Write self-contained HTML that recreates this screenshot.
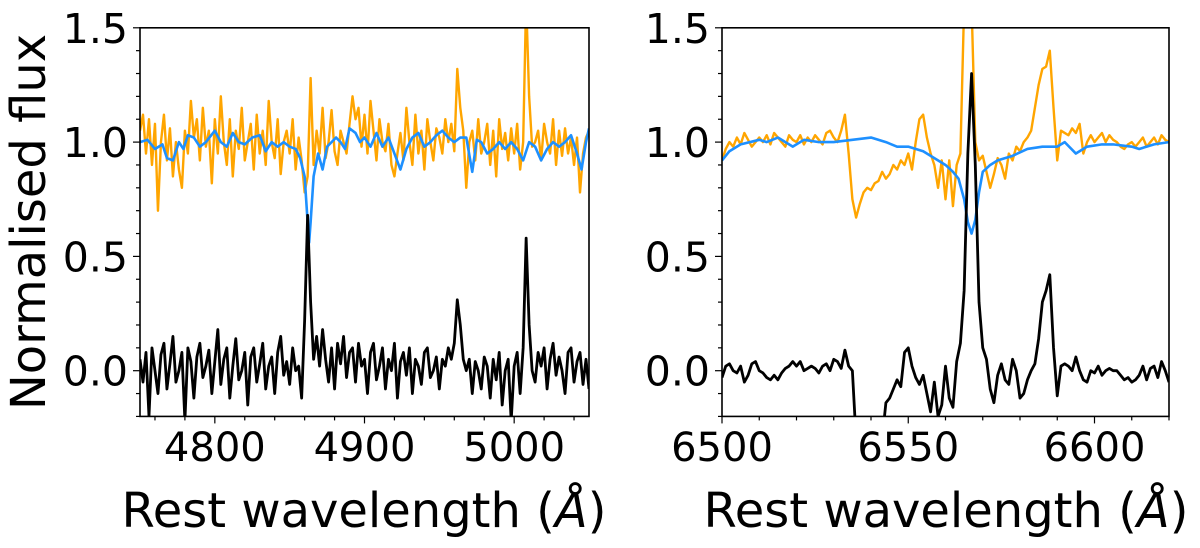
<!DOCTYPE html>
<html><head><meta charset="utf-8"><style>
body{margin:0;background:#fff;}
svg text{font-family:"DejaVu Sans","Liberation Sans",sans-serif;fill:#000;}
</style></head><body>
<svg id="chart" width="1200" height="543" viewBox="0 0 1200 543" xmlns="http://www.w3.org/2000/svg">
<defs>
<clipPath id="clipL"><rect x="140" y="28" width="449" height="388"/></clipPath>
<clipPath id="clipR"><rect x="722" y="28" width="447" height="388"/></clipPath>
</defs>
<text transform="translate(45,222) rotate(-90)" text-anchor="middle" font-size="48">Normalised flux</text>
<text x="364" y="527" text-anchor="middle" font-size="48">Rest wavelength (<tspan font-style="italic">Å</tspan>)</text>
<text x="946" y="527" text-anchor="middle" font-size="48">Rest wavelength (<tspan font-style="italic">Å</tspan>)</text>
<g id="gL"></g>
<g id="gR"></g>
</svg>
<script>
// ---- data ----
const yTicks=[0.0,0.5,1.0,1.5];
const yTickLabels=["0.0","0.5","1.0","1.5"];
const leftXTicks=[4800,4900,5000];
const rightXTicks=[6500,6550,6600];
const leftStart=4750, leftStep=2;
const leftOrange=[1.05,1.12,0.95,1.1,0.9,1.08,0.7,1.0,1.12,0.92,1.06,0.85,1.0,0.88,0.8,1.05,0.95,1.18,1.02,1.1,0.92,1.15,0.98,1.05,0.82,
1.1,0.95,1.2,1.0,0.9,1.1,0.85,1.05,0.97,1.15,0.92,1.0,1.08,0.88,1.12,0.95,1.05,0.9,1.18,1.0,0.93,1.1,0.86,1.0,1.05,
0.95,1.1,0.88,1.02,0.92,0.78,0.85,1.28,0.9,1.05,0.95,1.15,0.93,1.0,1.14,0.96,0.9,1.05,1.0,0.95,1.08,1.2,1.1,1.15,0.98,
1.12,0.95,1.18,1.05,0.92,1.1,1.0,0.96,1.08,0.9,0.85,0.95,1.04,0.92,1.15,1.0,0.9,1.12,0.95,1.05,0.88,1.1,1.0,0.92,1.06,
1.02,0.95,1.1,1.0,1.08,0.96,1.32,1.15,1.05,0.8,1.0,1.05,0.92,1.1,0.95,1.0,1.08,0.9,1.05,0.85,1.1,0.97,1.04,0.92,1.06,
0.95,1.08,0.88,1.0,1.62,1.2,0.98,1.0,1.05,0.92,1.08,1.0,0.95,1.1,0.9,1.05,0.94,1.06,0.95,1.02,0.9,1.02,0.78,0.95,1.02,1.05];
const leftBlack=[0.05,-0.05,0.08,-0.2,0.1,0.0,-0.1,0.07,0.12,-0.08,0.03,0.15,-0.05,0.0,0.08,-0.22,0.1,0.04,-0.12,0.06,0.12,-0.03,0.02,0.09,-0.1,
0.04,0.18,-0.06,0.05,0.1,-0.12,0.02,0.14,-0.04,0.0,0.08,-0.15,0.06,0.1,-0.05,0.03,0.12,-0.08,0.02,0.06,-0.1,0.08,0.15,-0.02,0.04,
-0.06,0.1,0.0,0.02,-0.12,0.22,0.68,0.3,0.05,0.15,0.02,0.18,0.05,-0.05,0.1,-0.08,0.12,0.03,0.15,-0.03,0.08,0.1,-0.05,0.12,0.02,
0.05,-0.1,0.08,0.12,-0.04,0.02,0.1,-0.08,0.05,0.0,0.12,-0.12,0.04,0.08,-0.02,0.1,-0.1,0.05,0.02,-0.06,0.08,0.1,-0.03,0.0,0.06,
-0.08,0.05,0.02,0.1,0.05,0.12,0.31,0.2,0.05,0.0,0.05,-0.1,0.04,0.0,-0.08,0.06,0.02,-0.12,0.05,-0.04,0.08,-0.15,0.0,0.05,-0.22,
0.02,0.08,-0.1,0.1,0.58,0.2,0.0,-0.05,0.08,0.02,0.1,-0.08,0.05,0.12,-0.02,0.06,0.0,-0.1,0.08,0.1,-0.05,0.04,0.08,-0.06,0.05,-0.08];
const leftBlueX=[4750,4755,4760,4765,4768,4772,4776,4779,4782,4786,4790,4794,4800,4804,4808,4812,4816,4820,4825,4830,4834,4838,4842,4846,4850,4854,4857,4860,4862,4863,4864,4866,4869,4872,4875,4878,4881,4884,4887,4890,4894,4897,4900,4904,4908,4912,4916,4920,4924,4928,4932,4936,4940,4944,4948,4952,4956,4960,4964,4968,4972,4975,4978,4982,4986,4990,4994,4998,5002,5006,5010,5014,5018,5022,5026,5030,5034,5038,5042,5045,5048,5050];
const leftBlueY=[1.0,1.01,0.97,0.99,0.93,0.92,1.0,0.97,1.03,1.02,0.98,1.0,1.05,1.0,0.98,1.04,1.0,0.99,1.02,1.03,0.96,1.0,0.98,1.0,0.98,0.97,0.93,0.85,0.65,0.56,0.65,0.85,0.95,0.88,0.98,1.0,1.02,1.0,0.97,1.06,1.04,1.0,1.02,0.98,1.04,0.98,1.02,0.95,0.88,0.97,1.02,1.04,0.98,1.0,1.03,1.05,1.02,1.0,1.02,1.02,0.87,1.01,1.0,0.95,0.97,1.0,0.97,1.0,0.97,0.92,1.0,0.98,0.92,0.97,1.0,0.98,1.0,1.03,0.95,0.88,1.0,1.06];
const rightStart=6500, rightStep=1;
const rightOrange=[0.92,0.97,1.0,0.98,1.02,0.99,1.04,1.01,0.98,1.0,
1.02,1.0,1.03,0.99,1.04,1.02,1.0,0.98,1.03,1.01,
1.0,1.03,0.99,1.02,1.0,1.03,1.01,0.99,1.04,1.05,
1.02,1.0,1.05,1.12,0.95,0.75,0.67,0.73,0.78,0.8,
0.79,0.82,0.83,0.87,0.84,0.86,0.9,0.88,0.92,0.9,
0.95,0.88,1.0,1.1,1.12,1.02,0.95,0.9,0.8,0.92,
0.75,0.92,0.72,0.9,0.95,1.6,1.6,1.6,1.0,0.92,
0.94,0.87,0.8,0.86,0.93,0.9,0.84,0.95,0.92,0.98,
0.96,1.0,1.02,1.05,1.15,1.25,1.32,1.33,1.4,1.15,
0.92,1.05,1.04,1.03,1.06,1.04,1.08,0.95,1.0,1.03,
1.0,1.02,1.04,1.0,1.03,1.01,1.0,0.98,0.97,0.99,
1.0,0.98,1.0,1.02,0.98,1.0,1.02,0.99,1.03,1.01,1.0];
const rightBlack=[-0.03,0.02,0.03,0.0,-0.01,0.02,-0.05,-0.02,0.03,0.04,
0.0,-0.01,-0.03,-0.04,-0.02,-0.04,-0.01,0.01,0.02,0.04,
0.02,0.04,0.0,0.01,0.02,0.01,-0.01,0.02,0.03,0.0,
0.05,0.04,0.01,0.09,0.02,0.0,-0.3,-0.3,-0.3,-0.3,
-0.3,-0.3,-0.3,-0.3,-0.14,-0.12,-0.08,-0.04,-0.07,0.08,
0.1,0.02,-0.03,-0.06,-0.02,-0.1,-0.18,-0.05,-0.2,-0.15,
0.02,-0.12,-0.16,0.04,0.12,0.35,0.95,1.3,0.9,0.3,
0.1,0.05,-0.08,-0.14,-0.02,0.03,-0.04,-0.06,0.05,0.0,
-0.12,-0.1,-0.04,0.0,0.03,0.14,0.3,0.35,0.42,0.1,
-0.11,0.02,0.03,0.02,0.0,0.06,0.0,-0.04,-0.05,0.0,
-0.01,0.02,-0.02,0.0,0.01,0.0,0.0,-0.02,-0.04,-0.03,
-0.05,-0.04,-0.02,0.02,-0.04,0.01,0.02,-0.03,0.04,0.0,-0.05];
const rightBlueX=[6500,6502,6505,6510,6512,6515,6519,6522,6526,6530,6535,6540,6544,6547,6550,6554,6557,6560,6562,6563.5,6565,6566,6567,6568,6569,6570,6572,6574,6578,6582,6586,6590,6592,6595,6598,6602,6605,6610,6612,6616,6620];
const rightBlueY=[0.92,0.96,0.99,1.01,1.0,1.02,0.98,1.01,1.0,1.0,1.01,1.02,1.0,0.98,0.98,0.96,0.93,0.9,0.87,0.84,0.75,0.65,0.6,0.66,0.78,0.87,0.9,0.92,0.94,0.97,0.98,0.98,1.0,0.95,0.98,0.99,0.99,0.98,0.97,0.99,1.0];

const NS="http://www.w3.org/2000/svg";
function mk(tag,attrs,parent){const e=document.createElementNS(NS,tag);for(const k in attrs)e.setAttribute(k,attrs[k]);parent.appendChild(e);return e;}
const Y0=370.7, YS=228.6;
function yScale(v){return Y0-v*YS;}

function panel(g,x0,x1,lo,hi,xt,minorStep,clip,orange,black,start,step,bx,by,tickX,label){
  const xs=v=>x0+(v-lo)/(hi-lo)*(x1-x0);
  const top=yScale(1.5), bot=yScale(-0.2);
  function line(vals,color,w,name){
    let d="";vals.forEach((v,i)=>{d+=(i?"L":"M")+xs(start+i*step).toFixed(2)+","+yScale(v).toFixed(2);});
    const p=mk("path",{d:d,fill:"none",stroke:color,"stroke-width":w,"stroke-linejoin":"round","clip-path":"url(#"+clip+")"},g);
    
    
  }
  line(orange,"#FFA500",2.4,label+"-orange-spectrum");
  let d="";bx.forEach((x,i)=>{d+=(i?"L":"M")+xs(x).toFixed(2)+","+yScale(by[i]).toFixed(2);});
  const b=mk("path",{d:d,fill:"none",stroke:"#1E90FF","stroke-width":2.6,"stroke-linejoin":"round","clip-path":"url(#"+clip+")"},g);
  
  
  line(black,"#000",2.8,label+"-black-residual");
  const fr=mk("rect",{x:x0,y:top,width:x1-x0,height:bot-top,fill:"none",stroke:"#000","stroke-width":1.6},g);
  
  
  for(let v=Math.ceil(lo/minorStep)*minorStep;v<=hi+1e-6;v+=minorStep){
    const major=xt.some(t=>Math.abs(t-v)<1e-6);
    const t=mk("line",{x1:xs(v),x2:xs(v),y1:bot,y2:bot+(major?7:4),stroke:"#000","stroke-width":1.2},g);
    
    
  }
  xt.forEach(v=>{const t=mk("text",{x:xs(v),y:461,"text-anchor":"middle","font-size":"40"},g);t.textContent=String(v);
    
    });
  for(let k=-2;k<=15;k++){const v=k/10;const major=(k%5===0);
    const t=mk("line",{x1:x0,x2:x0-(major?7:4),y1:yScale(v),y2:yScale(v),stroke:"#000","stroke-width":1.2},g);
    
    }
  yTicks.forEach((v,i)=>{const t=mk("text",{x:tickX,y:yScale(v)+15,"text-anchor":"end","font-size":"41"},g);t.textContent=yTickLabels[i];
    
    });
}
panel(document.getElementById("gL"),140,589,4750,5050,leftXTicks,20,"clipL",leftOrange,leftBlack,leftStart,leftStep,leftBlueX,leftBlueY,128,"left");
panel(document.getElementById("gR"),722,1169,6500,6620,rightXTicks,10,"clipR",rightOrange,rightBlack,rightStart,rightStep,rightBlueX,rightBlueY,710,"right");
</script>
</body></html>
